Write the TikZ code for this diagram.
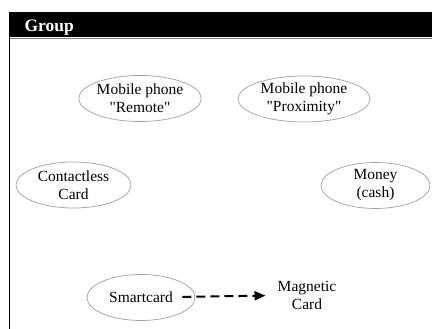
\documentclass[tikz,border=0pt]{standalone}
\usepackage{fontspec}
\setmainfont{Liberation Serif}[Ligatures=TeXOff]
\usetikzlibrary{shapes.geometric,arrows.meta}

\begin{document}
\begin{tikzpicture}[x=1pt,y=-1pt,font=\fontsize{15.5}{18}\selectfont]
\tikzstyle{oval}=[ellipse,draw=gray!75,line width=0.7pt,inner sep=0pt,minimum height=46pt,minimum width=#1,align=center]
\tikzstyle{plain}=[align=center,inner xsep=12pt]
\tikzstyle{dep}=[line width=2pt,dash pattern=on 9pt off 5pt,shorten <=-13pt,-{Triangle[length=11pt,width=9pt]}]
\useasboundingbox (0,0) rectangle (432,329);

% group frame and title bar
\fill[black] (9,12.5) rectangle (432,37.5);
\draw[gray,line width=1pt] (9,38.3) -- (432,38.3);
\draw[line width=1.2pt] (9.6,37.5) -- (9.6,329);
\node[anchor=base west,text=white,font=\fontsize{17.5}{18}\selectfont\bfseries](title) at (21,31.5) {Group};

\node[oval=116pt](remote) at (140,98.5) {Mobile phone\\"Remote"};
\node[oval=132pt](proximity) at (304,99) {Mobile phone\\"Proximity"};
\node[oval=115pt](contactless) at (73.5,185) {Contactless\\Card};
\node[oval=109pt](cash) at (375.5,185.5) {Money\\(cash)};
\node[oval=108pt](smart) at (141,297.5) {Smartcard};
\node[plain](magnetic) at (307,295) {Magnetic\\Card};

\draw[dep] (smart) -- (magnetic);
\end{tikzpicture}
\end{document}
